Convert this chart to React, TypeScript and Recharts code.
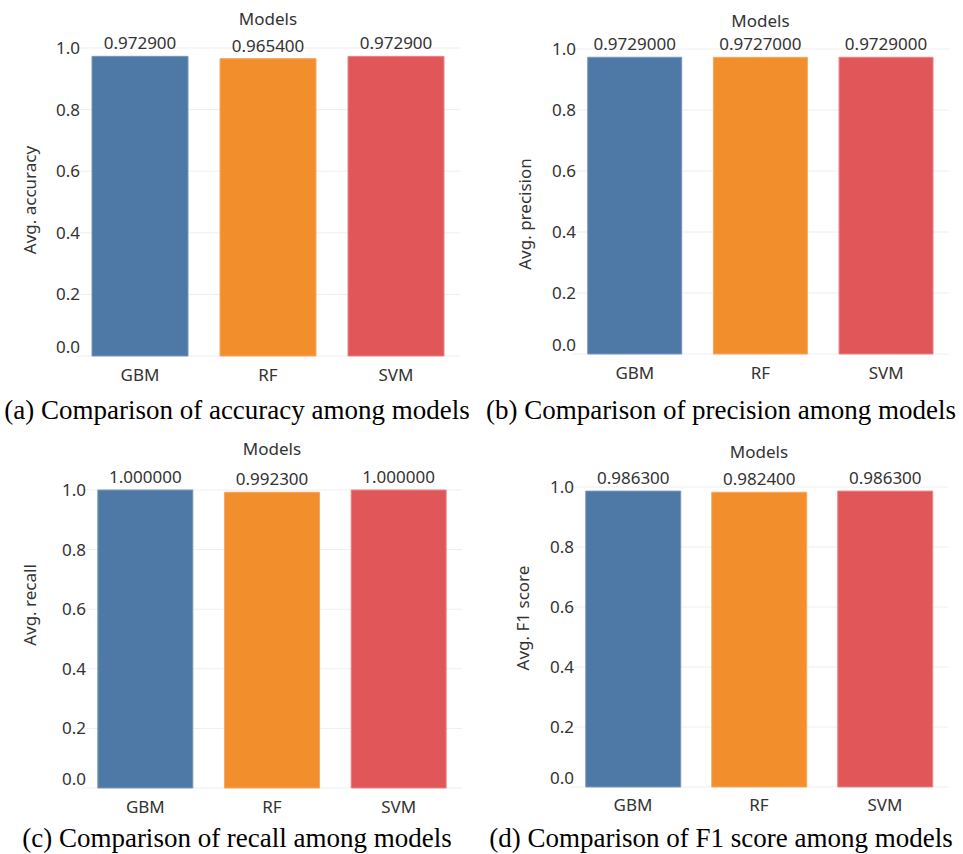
import React from 'react';
import { BarChart, Bar, XAxis, YAxis, CartesianGrid, Cell, LabelList } from 'recharts';

// ---- data ----
const models = ['GBM', 'RF', 'SVM'];
const avgAccuracy = [0.9729, 0.9654, 0.9729];
const avgPrecision = [0.9729, 0.9727, 0.9729];
const avgRecall = [1.0, 0.9923, 1.0];
const avgF1 = [0.9863, 0.9824, 0.9863];
const yTicks = [0, 0.2, 0.4, 0.6, 0.8, 1.0];
const modelColors = ['#4E79A7', '#F28E2B', '#E15759'];
const modelEdges = ['#7897BC', '#F5A862', '#E98587'];

const SANS = '"Noto Sans", "Open Sans", sans-serif';
const SERIF = '"Liberation Serif", "DejaVu Serif", serif';
const TXT = '#333333';
const FS = 17;

type Box = { left: number; top: number; width: number; height: number };
type Plot = { left: number; right: number; top: number; bottom: number };

interface PanelProps {
  values: number[];
  decimals: number;
  yLabel: string;
  caption: string;
  box: Box;
  plot: Plot;
  yLabelCenter: number;
  yLabelX: number;
  modelsY: number;
  captionY: number;
  captionX: number;
  xLabelOffset: number;
}

const Y_AXIS_W = 40;
const X_AXIS_H = 40;

function Panel(p: PanelProps) {
  const data = models.map((m, i) => ({ name: m, v: p.values[i] }));
  const margin = {
    top: p.plot.top - p.box.top,
    bottom: p.box.top + p.box.height - p.plot.bottom - X_AXIS_H,
    left: p.plot.left - p.box.left - Y_AXIS_W,
    right: p.box.left + p.box.width - p.plot.right,
  };
  const plotCx = (p.plot.left + p.plot.right) / 2;

  const renderYTick = (props: any) => {
    const { x, y, payload } = props;
    const v = Number(payload.value);
    return (
      <text x={x + 4} y={v === 0 ? y - 9 : y} dy="0.35em" textAnchor="end" fill={TXT}
        fontSize={FS} fontFamily={SANS}>
        {v.toFixed(1)}
      </text>
    );
  };
  const renderXTick = (props: any) => {
    const { x, y, payload } = props;
    return (
      <text x={x} y={y} dy="0.35em" textAnchor="middle" fill={TXT} fontSize={FS} fontFamily={SANS}>
        {payload.value}
      </text>
    );
  };

  return (
    <>
      <div style={{ position: 'absolute', left: p.box.left, top: p.box.top }}>
        <BarChart width={p.box.width} height={p.box.height} data={data} margin={margin}
          barCategoryGap="12.5%">
          <CartesianGrid vertical={false} stroke="#eeeeee" />
          <XAxis dataKey="name" axisLine={false} tickLine={false} tickSize={0}
            tickMargin={p.xLabelOffset} height={X_AXIS_H} tick={renderXTick} interval={0} />
          <YAxis type="number" domain={[0, 1]} ticks={yTicks} axisLine={false} tickLine={false}
            tickSize={0} tickMargin={0} width={Y_AXIS_W} tick={renderYTick} interval={0} />
          <Bar dataKey="v" isAnimationActive={false}>
            {data.map((d, i) => (
              <Cell key={d.name} fill={modelColors[i]} stroke={modelEdges[i]} strokeWidth={1} />
            ))}
            <LabelList dataKey="v" position="top" offset={7} fill={TXT} fontSize={FS}
              fontFamily={SANS} formatter={(v: any) => Number(v).toFixed(p.decimals)} />
          </Bar>
        </BarChart>
      </div>
      <div style={{ position: 'absolute', left: plotCx - 100, width: 200, top: p.modelsY - 12,
        height: 24, lineHeight: '24px', textAlign: 'center', fontFamily: SANS, fontSize: FS, color: TXT }}>
        Models
      </div>
      <div style={{ position: 'absolute', left: p.yLabelX - 100, width: 200, top: p.yLabelCenter - 12,
        height: 24, lineHeight: '24px', textAlign: 'center', fontFamily: SANS, fontSize: 17, color: TXT,
        transform: 'rotate(-90deg)', transformOrigin: '50% 50%', whiteSpace: 'nowrap' }}>
        {p.yLabel}
      </div>
      <div style={{ position: 'absolute', left: p.captionX - 260, width: 520,
        top: p.captionY - 16, height: 32, lineHeight: '32px', textAlign: 'center', fontFamily: SERIF,
        fontSize: 27, color: '#000', whiteSpace: 'nowrap' }}>
        {p.caption}
      </div>
    </>
  );
}

export default function App() {
  return (
    <div style={{ position: 'absolute', left: 0, top: 0, width: 963, height: 854, background: '#fff',
      overflow: 'hidden' }}>
      <Panel values={avgAccuracy} decimals={6} yLabel="Avg. accuracy"
        caption="(a) Comparison of accuracy among models"
        box={{ left: 0, top: 0, width: 480, height: 400 }}
        plot={{ left: 76, right: 460, top: 48, bottom: 356 }}
        yLabelCenter={200} yLabelX={30} modelsY={19} captionY={410} captionX={237} xLabelOffset={19} />
      <Panel values={avgPrecision} decimals={7} yLabel="Avg. precision"
        caption="(b) Comparison of precision among models"
        box={{ left: 480, top: 0, width: 483, height: 400 }}
        plot={{ left: 572, right: 949, top: 49, bottom: 354 }}
        yLabelCenter={214} yLabelX={525} modelsY={21} captionY={410} captionX={721} xLabelOffset={19} />
      <Panel values={avgRecall} decimals={6} yLabel="Avg. recall"
        caption="(c) Comparison of recall among models"
        box={{ left: 0, top: 427, width: 480, height: 400 }}
        plot={{ left: 82, right: 462, top: 490, bottom: 788 }}
        yLabelCenter={605} yLabelX={30} modelsY={449} captionY={838} captionX={237} xLabelOffset={19} />
      <Panel values={avgF1} decimals={6} yLabel="Avg. F1 score"
        caption="(d) Comparison of F1 score among models"
        box={{ left: 480, top: 427, width: 483, height: 400 }}
        plot={{ left: 570, right: 948, top: 487, bottom: 787 }}
        yLabelCenter={618} yLabelX={523} modelsY={452} captionY={838} captionX={721} xLabelOffset={18} />
    </div>
  );
}
